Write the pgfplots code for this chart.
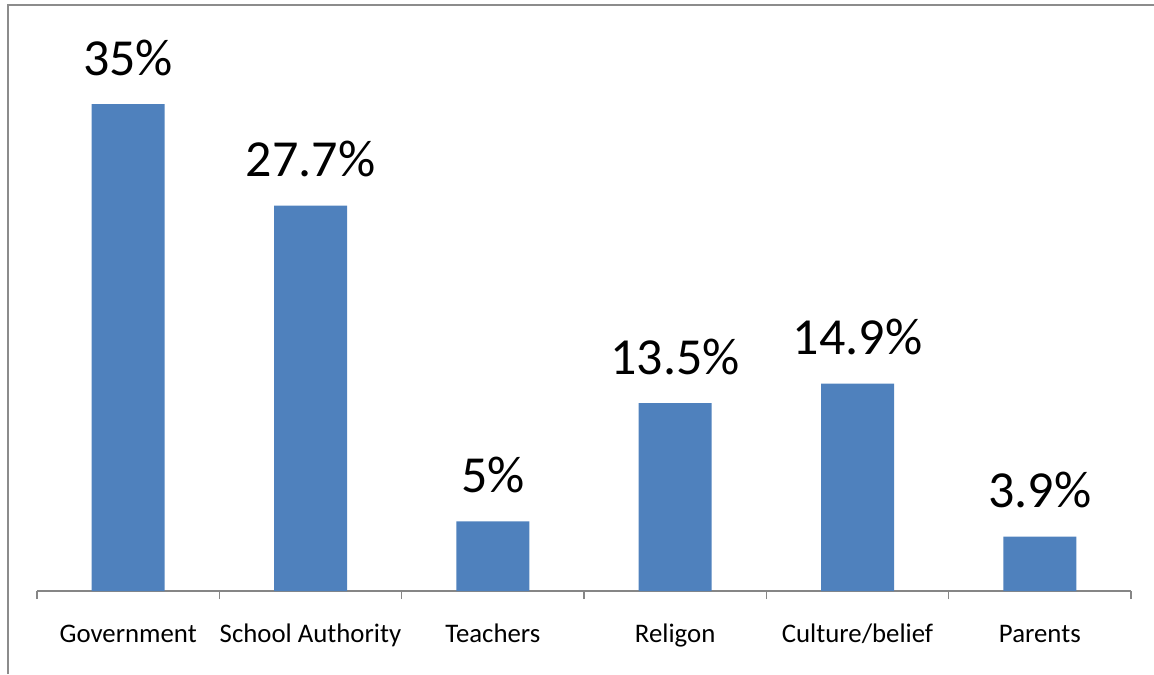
\documentclass[border=0pt]{standalone}
\usepackage{pgfplots}
\pgfplotsset{compat=1.18}
\usepackage{fontspec}
\setmainfont{Carlito}
\definecolor{barblue}{HTML}{4F81BD}
\definecolor{axgray}{HTML}{868686}
\definecolor{framegray}{HTML}{8C8C8C}
\begin{document}
\begin{tikzpicture}
\useasboundingbox (0,0) rectangle (577pt,337pt);
\draw[framegray, line width=1pt] (4pt,0pt) -- (4pt,334.5pt) -- (577pt,334.5pt);
\begin{axis}[
  at={(18.5pt,41.5pt)}, anchor=south west,
  scale only axis,
  width=547pt, height=293pt,
  xmin=-0.5, xmax=5.5, ymin=0, ymax=42.12,
  axis x line*=bottom, axis y line=none,
  axis line style={axgray, line width=0.75pt},
  xtick={0,1,2,3,4,5},
  xticklabels={Government,School Authority,Teachers,Religon,Culture/belief,Parents},
  major tick length=0pt,
  minor xtick={-0.5,0.5,1.5,2.5,3.5,4.5,5.5},
  minor tick length=4pt,
  tick align=outside,
  minor tick style={axgray, line width=0.75pt},
  xticklabel style={font=\fontsize{13.4pt}{16pt}\selectfont, anchor=base, inner sep=0pt, yshift=-25.5pt},
  /pgf/number format/assume math mode=true,
  ybar, bar width=36.5pt,
  nodes near coords={\pgfmathprintnumber[fixed, precision=1, assume math mode=true]{\pgfplotspointmeta}\%},
  nodes near coords style={font=\fontsize{26pt}{30pt}\selectfont, anchor=south, inner sep=0pt, yshift=14pt, text=black},
  clip=false,
]
\addplot[fill=barblue, draw=none] coordinates {(0,35) (1,27.7) (2,5) (3,13.5) (4,14.9) (5,3.9)};
\end{axis}
\end{tikzpicture}
\end{document}
